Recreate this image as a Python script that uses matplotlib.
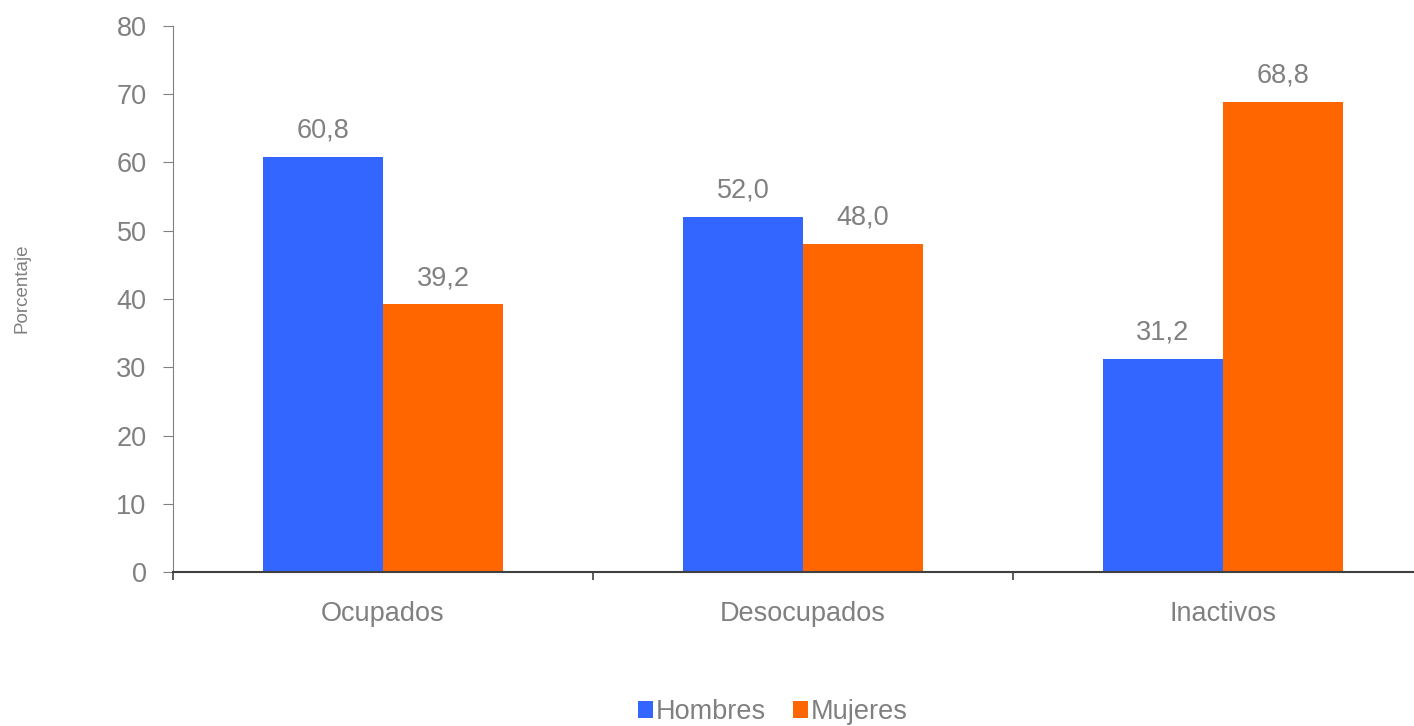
import matplotlib.pyplot as plt
import numpy as np

plt.rcParams['font.family'] = ['Liberation Sans', 'DejaVu Sans']

categorias = ['Ocupados', 'Desocupados', 'Inactivos']
hombres = [60.8, 52.0, 31.2]
mujeres = [39.2, 48.0, 68.8]
color_h = '#3366FF'
color_m = '#FF6600'
gris = '#808080'

fig = plt.figure(figsize=(14.14, 7.26), dpi=100)
ax = fig.add_axes([173 / 1414, 154 / 726, 1260 / 1414, 546 / 726])

x = np.arange(len(categorias))
w = 120 / 420
b1 = ax.bar(x - w / 2, hombres, w, color=color_h, label='Hombres')
b2 = ax.bar(x + w / 2, mujeres, w, color=color_m, label='Mujeres')

# etiquetas de valor con coma decimal
for barras in (b1, b2):
    for r in barras:
        v = r.get_height()
        ax.annotate(f'{v:.1f}'.replace('.', ','), (r.get_x() + r.get_width() / 2, v),
                    xytext=(0, 14), textcoords='offset points', ha='center', va='baseline',
                    fontsize=19.5, color=gris)

ax.set_xlim(-0.5, 2.5)
ax.set_ylim(0, 80)
ax.set_yticks(range(0, 81, 10))
ax.set_xticks([-0.5, 0.5, 1.5, 2.5])
ax.set_xticklabels([])
ax.set_xticks(x, minor=True)
ax.set_xticklabels(categorias, minor=True)
ax.tick_params(axis='x', which='minor', length=0, pad=21, labelsize=19.5, labelcolor=gris)
ax.tick_params(axis='x', which='major', direction='out', length=6, color='#404040', width=1.2)
ax.tick_params(axis='y', direction='out', length=7.5, color=gris, labelsize=19.5,
               labelcolor=gris, pad=11.5)

for s in ['top', 'right']:
    ax.spines[s].set_visible(False)
ax.spines['left'].set_color(gris)
ax.spines['bottom'].set_color('#404040')
ax.spines['bottom'].set_linewidth(1.5)

fig.text(22 / 1414, 1 - 288 / 726, 'Porcentaje', rotation=90, ha='center', va='center',
         fontsize=13.5, color=gris)

leg = fig.legend(handles=[b1, b2], loc='center', bbox_to_anchor=(773 / 1414, 1 - 712 / 726),
                 ncol=2, frameon=False, fontsize=19.5, handlelength=0.55, handleheight=0.55,
                 handletextpad=0.1, columnspacing=1.0, borderpad=0, borderaxespad=0)
for t in leg.get_texts():
    t.set_color(gris)

fig.savefig('out.png', dpi=100)
